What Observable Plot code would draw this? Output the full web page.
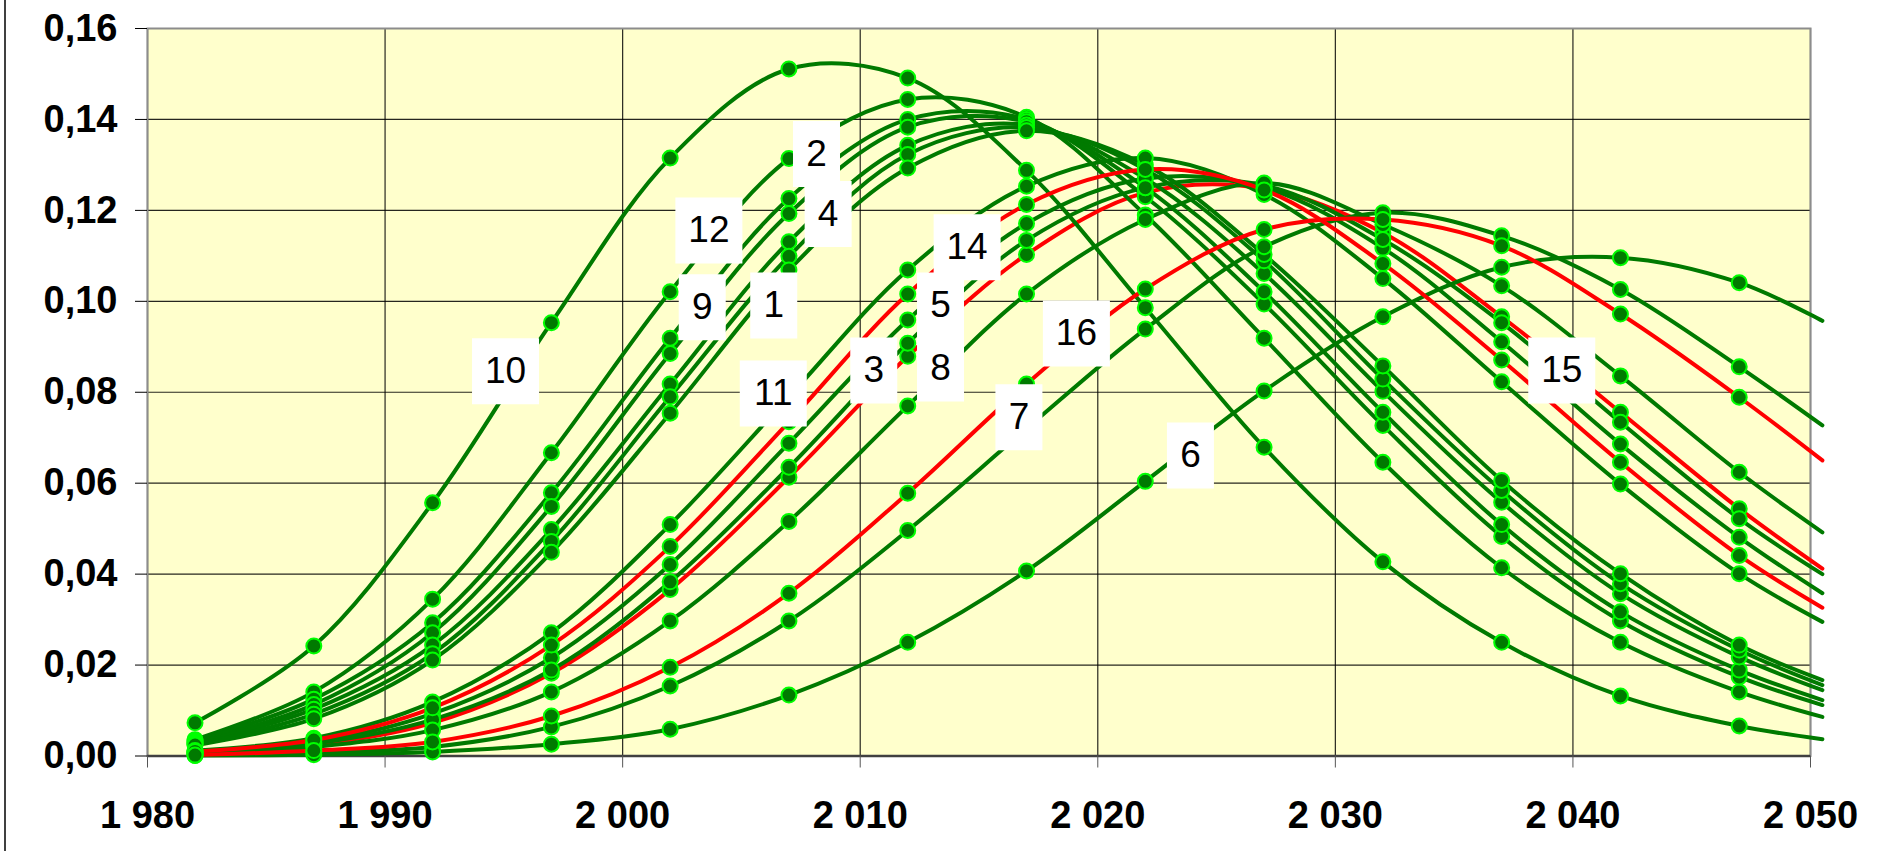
<!DOCTYPE html>
<html>
<head>
<meta charset="utf-8">
<script src="https://cdn.jsdelivr.net/npm/d3@7"></script>
<script src="https://cdn.jsdelivr.net/npm/@observablehq/plot@0.6"></script>
<style>
  body { margin: 0; background: #ffffff; }
  #wrap { position: relative; width: 1890px; height: 851px; overflow: hidden; }
  #edge { position: absolute; left: 4px; top: 0; width: 2px; height: 851px; background: #404040; }
</style>
</head>
<body>
<div id="wrap"><div id="edge"></div></div>
<script>
// ---- data ----
const years = [1982, 1987, 1992, 1997, 2002, 2007, 2012, 2017, 2022, 2027, 2032, 2037, 2042, 2047, 2050.5];

const c10 = [0.0073, 0.0242, 0.0557, 0.0953, 0.1315, 0.1511, 0.1491, 0.1288, 0.0986, 0.0679, 0.0427, 0.0250, 0.0132, 0.0066, 0.0037];
const c2  = [0.0036, 0.0141, 0.0345, 0.0667, 0.1021, 0.1314, 0.1444, 0.1405, 0.1190, 0.0919, 0.0646, 0.0414, 0.0250, 0.0141, 0.0086];
const c12 = [0.0033, 0.0125, 0.0293, 0.0579, 0.0919, 0.1226, 0.1400, 0.1400, 0.1230, 0.0994, 0.0727, 0.0483, 0.0297, 0.0174, 0.0112];
const c4  = [0.0030, 0.0113, 0.0271, 0.0549, 0.0885, 0.1193, 0.1383, 0.1395, 0.1250, 0.1021, 0.0756, 0.0509, 0.0317, 0.0189, 0.0123];
const c9  = [0.0028, 0.0103, 0.0244, 0.0498, 0.0818, 0.1131, 0.1343, 0.1388, 0.1270, 0.1061, 0.0802, 0.0558, 0.0357, 0.0218, 0.0145];
const c1  = [0.0026, 0.0092, 0.0225, 0.0472, 0.0790, 0.1099, 0.1323, 0.1382, 0.1290, 0.1089, 0.0829, 0.0584, 0.0379, 0.0233, 0.0156];
const c13 = [0.0024, 0.0082, 0.0211, 0.0448, 0.0754, 0.1069, 0.1293, 0.1375, 0.1300, 0.1103, 0.0858, 0.0606, 0.0401, 0.0244, 0.0167];
const c14 = [0.0012, 0.0039, 0.0119, 0.0271, 0.0509, 0.0790, 0.1069, 0.1253, 0.1315, 0.1235, 0.1050, 0.0823, 0.0598, 0.0401, 0.0295];
const c3  = [0.0010, 0.0035, 0.0106, 0.0244, 0.0461, 0.0735, 0.1016, 0.1213, 0.1290, 0.1245, 0.1083, 0.0871, 0.0646, 0.0441, 0.0326];
const c5  = [0.0009, 0.0030, 0.0093, 0.0216, 0.0421, 0.0688, 0.0959, 0.1171, 0.1270, 0.1250, 0.1117, 0.0911, 0.0686, 0.0481, 0.0358];
const c8  = [0.0008, 0.0027, 0.0080, 0.0189, 0.0383, 0.0635, 0.0908, 0.1134, 0.1250, 0.1255, 0.1136, 0.0953, 0.0734, 0.0522, 0.0400];
const c15 = [0.0007, 0.0025, 0.0073, 0.0182, 0.0366, 0.0613, 0.0879, 0.1103, 0.1239, 0.1248, 0.1151, 0.0966, 0.0756, 0.0544, 0.0412];
const c11 = [0.0005, 0.0020, 0.0057, 0.0141, 0.0297, 0.0516, 0.0770, 0.1016, 0.1180, 0.1260, 0.1169, 0.1034, 0.0836, 0.0624, 0.0492];
const c7  = [0.0002, 0.0012, 0.0031, 0.0088, 0.0195, 0.0358, 0.0578, 0.0818, 0.1027, 0.1158, 0.1180, 0.1122, 0.0972, 0.0789, 0.0650];
const c16 = [0.0002, 0.0008, 0.0020, 0.0064, 0.0154, 0.0297, 0.0496, 0.0720, 0.0939, 0.1120, 0.1195, 0.1144, 0.1026, 0.0856, 0.0727];
const c6  = [0.0001, 0.0003, 0.0009, 0.0026, 0.0059, 0.0134, 0.0250, 0.0407, 0.0604, 0.0803, 0.0966, 0.1075, 0.1096, 0.1041, 0.0957];

const seriesNames  = ["15", "10", "2", "12", "4", "9", "1", "13", "14", "5", "8", "11", "16", "6", "3", "7"];
const seriesValues = [c15, c10, c2, c12, c4, c9, c1, c13, c14, c5, c8, c11, c16, c6, c3, c7];
const redSeries = ["3", "15", "7"];

const labelText  = ["10", "12", "9", "1", "2", "4", "11", "3", "14", "5", "8", "7", "16", "6", "15"];
const labelYear  = [1995.07, 2003.63, 2003.35, 2006.36, 2008.16, 2008.65, 2006.34, 2010.57, 2014.5, 2013.38, 2013.38, 2016.68, 2019.1, 2023.9, 2039.53];
const labelValue = [0.0846, 0.1156, 0.0987, 0.0991, 0.1324, 0.1192, 0.0797, 0.0848, 0.1119, 0.0991, 0.0852, 0.0745, 0.0929, 0.0661, 0.0848];

const xTicks = [1980, 1990, 2000, 2010, 2020, 2030, 2040, 2050];
const yTicks = [0, 0.02, 0.04, 0.06, 0.08, 0.10, 0.12, 0.14, 0.16];

// ---- build tables ----
const rows = seriesNames.flatMap((name, i) =>
  years.map((year, j) => ({name, year, value: seriesValues[i][j]})));
const markerRows = rows.filter(d => d.year % 5 === 2);
const labels = labelText.map((t, i) => ({t, year: labelYear[i], value: labelValue[i]}));

const locale = d3.formatLocale({decimal: ",", thousands: " ", grouping: [3], currency: ["", ""]});
const fmtX = locale.format(",d");
const fmtY = locale.format(".2f");

const GREEN = "#007A00";
const box = (w, h) => ({draw(ctx) {
  ctx.moveTo(-w / 2, -h / 2); ctx.lineTo(w / 2, -h / 2);
  ctx.lineTo(w / 2, h / 2); ctx.lineTo(-w / 2, h / 2); ctx.closePath();
}});

const lineMarks = seriesNames.map(name => Plot.line(rows.filter(d => d.name === name), {
  x: "year", y: "value",
  stroke: redSeries.includes(name) ? "#FF0000" : GREEN,
  strokeWidth: 4, curve: "catmull-rom"
}));

const font = "Arial, 'Liberation Sans', sans-serif";

const chart = Plot.plot({
  width: 1890, height: 851,
  marginLeft: 147, marginRight: 80, marginTop: 28, marginBottom: 95.5,
  x: {domain: [1980, 2050]},
  y: {domain: [0, 0.16]},
  style: {fontFamily: font, background: "transparent", overflow: "visible"},
  marks: [
    Plot.frame({fill: "#FFFFCC", stroke: null}),
    Plot.gridX(xTicks, {stroke: "#000", strokeOpacity: 0.85, strokeWidth: 1.2}),
    Plot.gridY(yTicks, {stroke: "#000", strokeOpacity: 0.85, strokeWidth: 1.2}),
    Plot.frame({stroke: "#8c8c8c", strokeWidth: 2}),
    Plot.ruleY([0], {stroke: "#404040", strokeWidth: 2.5}),
    Plot.axisX(xTicks, {tickSize: 12, tickPadding: 33, fontSize: 38, fontWeight: "bold",
      tickFormat: fmtX, label: null, stroke: "#555", fill: "#000"}),
    Plot.axisY(yTicks, {tickSize: 12, tickPadding: 18, fontSize: 38, fontWeight: "bold",
      tickFormat: fmtY, label: null, stroke: "#000", fill: "#000"}),
    ...lineMarks,
    Plot.dot(markerRows, {x: "year", y: "value", r: 7.5, fill: "#007A00", stroke: "#00FF00", strokeWidth: 2}),
    Plot.dot(labels.filter(d => d.t.length === 1), {x: "year", y: "value", r: 1, symbol: box(47, 66), fill: "#ffffff", stroke: null}),
    Plot.dot(labels.filter(d => d.t.length === 2), {x: "year", y: "value", r: 1, symbol: box(67, 66), fill: "#ffffff", stroke: null}),
    Plot.text(labels, {x: "year", y: "value", text: "t", fontSize: 37, fill: "#000", fontWeight: "normal", fontFamily: font})
  ]
});
document.getElementById("wrap").appendChild(chart);
</script>
</body>
</html>
